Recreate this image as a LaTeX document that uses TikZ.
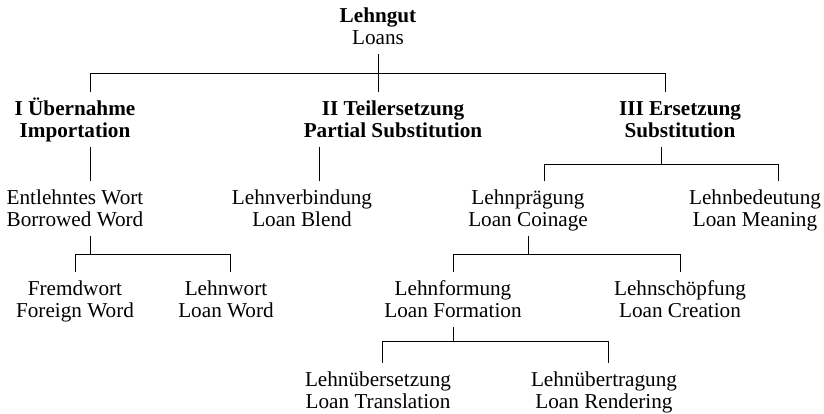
\documentclass[tikz,border=0pt]{standalone}
\usepackage{fontspec}
\setmainfont{Liberation Serif}
\usepackage{tikz}
\usetikzlibrary{calc}
\newcommand{\twoline}[2]{\rule{0pt}{10pt}#1\\#2\rule[-3pt]{0pt}{3pt}}

\begin{document}
\begin{tikzpicture}[
  x=0.5pt,y=-0.5pt,
  every node/.style={font=\fontsize{10.6}{11.25}\selectfont},
  term/.style={align=center,anchor=north,inner xsep=0pt,inner ysep=1.5pt},
  branch/.style={line width=0.5pt}
]
\useasboundingbox (0,0) rectangle (824,413);

% 根
\node[term] (root) at (378,-1) {\twoline{\textbf{Lehngut}}{Loans}};

% 第一段
\node[term] (imp)     at (75,92)  {\twoline{\textbf{I Übernahme}}{\textbf{Importation}}};
\node[term] (partsub) at (393,92) {\twoline{\textbf{II Teilersetzung}}{\textbf{Partial Substitution}}};
\node[term] (subst)   at (680,92) {\twoline{\textbf{III Ersetzung}}{\textbf{Substitution}}};

% 第二段
\node[term] (borr)  at (75,181)  {\twoline{Entlehntes Wort}{Borrowed Word}};
\node[term] (blend) at (302,181) {\twoline{Lehnverbindung}{Loan Blend}};
\node[term] (coin)  at (528,181) {\twoline{Lehnprägung}{Loan Coinage}};
\node[term] (mean)  at (755,181) {\twoline{Lehnbedeutung}{Loan Meaning}};

% 第三段
\node[term] (foreign)  at (75,272)  {\twoline{Fremdwort}{Foreign Word}};
\node[term] (loanword) at (226,272) {\twoline{Lehnwort}{Loan Word}};
\node[term] (form)     at (453,272) {\twoline{Lehnformung}{Loan Formation}};
\node[term] (creat)    at (680,272) {\twoline{Lehnschöpfung}{Loan Creation}};

% 第四段
\node[term] (transl) at (378,363) {\twoline{Lehnübersetzung}{Loan Translation}};
\node[term] (render) at (604,363) {\twoline{Lehnübertragung}{Loan Rendering}};

% 枝: 根
\coordinate (f1) at ($(root.south)!.5!(partsub.north)$);
\draw[branch] (root.south) -- ($(partsub.north)+(-15,0)$);
\draw[branch] ($(imp.north)+(15,0)$) |- (f1) -| ($(subst.north)+(-15,0)$);

% 枝: I, II
\draw[branch] ($(imp.south)+(15,0)$) -- ($(borr.north)+(15,0)$);
\draw[branch] ($(partsub.south)+(-74,0)$) -- ($(blend.north)+(17,0)$);

% 枝: III
\coordinate (f3) at ($(subst.south)!.5!(coin.north)$);
\draw[branch] ($(subst.south)+(-19,0)$) coordinate (s3) -- (s3 |- f3);
\draw[branch] ($(coin.north)+(16,0)$) |- (f3) -| ($(mean.north)+(23,0)$);

% 枝: Entlehntes Wort
\coordinate (f4) at ($(borr.south)!.5!(foreign.north)$);
\draw[branch] ($(borr.south)+(15,0)$) coordinate (s4) -- (s4 |- f4);
\draw[branch] (foreign.north) |- (f4) -| ($(loanword.north)+(4,0)$);

% 枝: Lehnprägung
\coordinate (f5) at ($(coin.south)!.5!(form.north)$);
\draw[branch] (coin.south) -- (coin.south |- f5);
\draw[branch] (form.north) |- (f5) -| (creat.north);

% 枝: Lehnformung
\coordinate (f6) at ($(form.south)!.4!(transl.north)$);
\draw[branch] (form.south) -- (form.south |- f6);
\draw[branch] ($(transl.north)+(4,0)$) |- (f6) -| ($(render.north)+(4,0)$);
\end{tikzpicture}
\end{document}
